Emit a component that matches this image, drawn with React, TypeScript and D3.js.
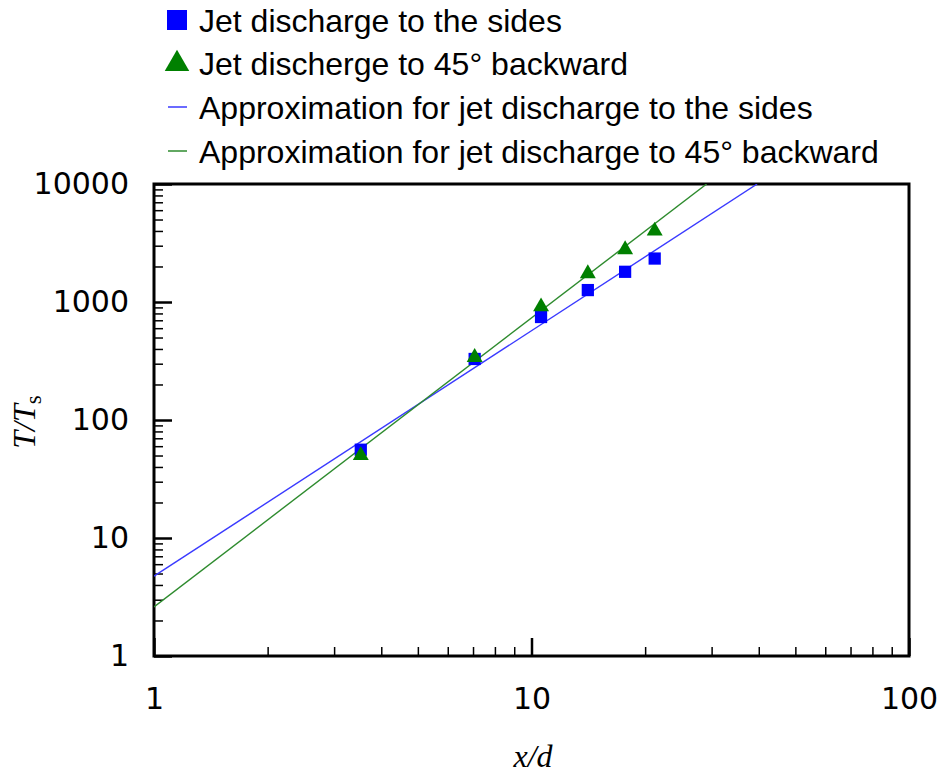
import React, { useEffect, useRef } from 'react';
import * as d3 from 'd3';

// measured points
const xValues = [3.53, 7.07, 10.6, 14.1, 17.7, 21.2];
const sidesValues = [56, 329, 746, 1262, 1803, 2335];
const backwardValues = [50, 340, 912, 1743, 2782, 4005];

// approximation lines (two end points each, straight on log-log)
const approxSidesX = [1, 39.6];
const approxSidesY = [4.75, 10000];
const approxBackX = [1, 29.1];
const approxBackY = [2.61, 10000];

const xTicks = [1, 10, 100];
const yTicks = [1, 10, 100, 1000, 10000];

const legendLabels = [
  'Jet discharge to the sides',
  'Jet discherge to 45° backward',
  'Approximation for jet discharge to the sides',
  'Approximation for jet discharge to 45° backward',
];

const BLUE = '#0000ff';
const GREEN = '#008000';

const App = () => {
  const ref = useRef<SVGSVGElement>(null);

  useEffect(() => {
    if (!ref.current) return;
    const svg = d3.select(ref.current);
    svg.selectAll('*').remove();

    const left = 154, right = 909, top = 184, bottom = 656;

    const x = d3.scaleLog().domain([1, 100]).range([left, right]);
    const y = d3.scaleLog().domain([1, 10000]).range([bottom, top]);

    const minor = (lo: number, hi: number) => {
      const out: number[] = [];
      for (let p = lo; p < hi; p *= 10) for (let k = 2; k <= 9; k++) out.push(p * k);
      return out;
    };

    svg.append('defs').append('clipPath').attr('id', 'plot-clip')
      .append('rect').attr('x', left).attr('y', top)
      .attr('width', right - left).attr('height', bottom - top);

    // minor ticks
    svg.append('g').attr('transform', `translate(${left},0)`)
      .call(d3.axisLeft(y).tickValues(minor(1, 10000)).tickSize(-9).tickFormat(() => ''))
      .call(g => g.select('.domain').remove())
      .call(g => g.selectAll('line').attr('stroke', '#000').attr('stroke-width', 1.5));
    svg.append('g').attr('transform', `translate(0,${bottom})`)
      .call(d3.axisBottom(x).tickValues(minor(1, 100)).tickSize(-9).tickFormat(() => ''))
      .call(g => g.select('.domain').remove())
      .call(g => g.selectAll('line').attr('stroke', '#000').attr('stroke-width', 1.5));

    // major ticks
    svg.append('g').attr('transform', `translate(${left},0)`)
      .call(d3.axisLeft(y).tickValues(yTicks).tickSize(-18).tickPadding(25).tickFormat(d3.format('d')))
      .call(g => g.select('.domain').remove())
      .call(g => g.selectAll('line').attr('stroke', '#000').attr('stroke-width', 2.5))
      .call(g => g.selectAll('text').attr('font-family', 'DejaVu Sans').attr('font-size', 30).attr('fill', '#000'));
    svg.append('g').attr('transform', `translate(0,${bottom})`)
      .call(d3.axisBottom(x).tickValues(xTicks).tickSize(-18).tickPadding(32).tickFormat(d3.format('d')))
      .call(g => g.select('.domain').remove())
      .call(g => g.selectAll('line').attr('stroke', '#000').attr('stroke-width', 2.5))
      .call(g => g.selectAll('text').attr('font-family', 'DejaVu Sans').attr('font-size', 30).attr('fill', '#000'));

    // frame
    svg.append('rect')
      .attr('x', left).attr('y', top)
      .attr('width', right - left).attr('height', bottom - top)
      .attr('fill', 'none').attr('stroke', '#000').attr('stroke-width', 3);

    // approximation lines
    const line = d3.line<[number, number]>().x(d => x(d[0])).y(d => y(d[1]));
    const plot = svg.append('g').attr('clip-path', 'url(#plot-clip)');
    plot.append('path')
      .attr('d', line(approxSidesX.map((v, i) => [v, approxSidesY[i]] as [number, number])))
      .attr('fill', 'none').attr('stroke', '#3a3aff').attr('stroke-width', 1.4);
    plot.append('path')
      .attr('d', line(approxBackX.map((v, i) => [v, approxBackY[i]] as [number, number])))
      .attr('fill', 'none').attr('stroke', '#2e8b2e').attr('stroke-width', 1.4);

    // markers
    const sq = d3.symbol().type(d3.symbolSquare).size(150);
    const tri = d3.symbol().type(d3.symbolTriangle).size(110);
    svg.append('g').selectAll('path')
      .data(xValues.map((v, i) => [v, sidesValues[i]]))
      .join('path')
      .attr('d', sq)
      .attr('transform', d => `translate(${x(d[0])},${y(d[1])})`)
      .attr('fill', BLUE);
    svg.append('g').selectAll('path')
      .data(xValues.map((v, i) => [v, backwardValues[i]]))
      .join('path')
      .attr('d', tri)
      .attr('transform', d => `translate(${x(d[0])},${y(d[1])})`)
      .attr('fill', GREEN);

    // legend
    const lg = svg.append('g');
    const rowY = [20, 63, 107, 151];
    lg.append('rect').attr('x', 167).attr('y', rowY[0] - 10).attr('width', 20).attr('height', 20).attr('fill', BLUE);
    lg.append('path').attr('d', d3.symbol().type(d3.symbolTriangle).size(260)).attr('transform', `translate(177,${rowY[1] + 1})`).attr('fill', GREEN);
    lg.append('line').attr('x1', 168).attr('x2', 187).attr('y1', rowY[2]).attr('y2', rowY[2]).attr('stroke', '#3a3aff').attr('stroke-width', 1.5);
    lg.append('line').attr('x1', 168).attr('x2', 187).attr('y1', rowY[3]).attr('y2', rowY[3]).attr('stroke', '#2e8b2e').attr('stroke-width', 1.5);
    lg.selectAll('text.lab').data(legendLabels).join('text')
      .attr('class', 'lab')
      .attr('x', 199).attr('y', (_, i) => rowY[i])
      .attr('dy', '0.36em')
      .attr('font-family', 'Liberation Sans, Arial, sans-serif')
      .attr('font-size', 32)
      .text(d => d);

    // axis titles
    svg.append('text')
      .attr('x', 533).attr('y', 767)
      .attr('text-anchor', 'middle')
      .attr('font-family', 'Liberation Serif, serif').attr('font-style', 'italic').attr('font-size', 32)
      .text('x/d');

    const yt = svg.append('text')
      .attr('transform', `translate(35,422) rotate(-90)`)
      .attr('text-anchor', 'middle')
      .attr('font-family', 'Liberation Serif, serif').attr('font-size', 32);
    yt.append('tspan').attr('font-style', 'italic').text('T/T');
    yt.append('tspan').attr('font-size', 23).attr('dy', 6).text('s');
  }, []);

  return (
    <svg ref={ref} width={944} height={778}
      style={{ position: 'absolute', left: 0, top: 0, background: '#fff' }} />
  );
};

export default App;
